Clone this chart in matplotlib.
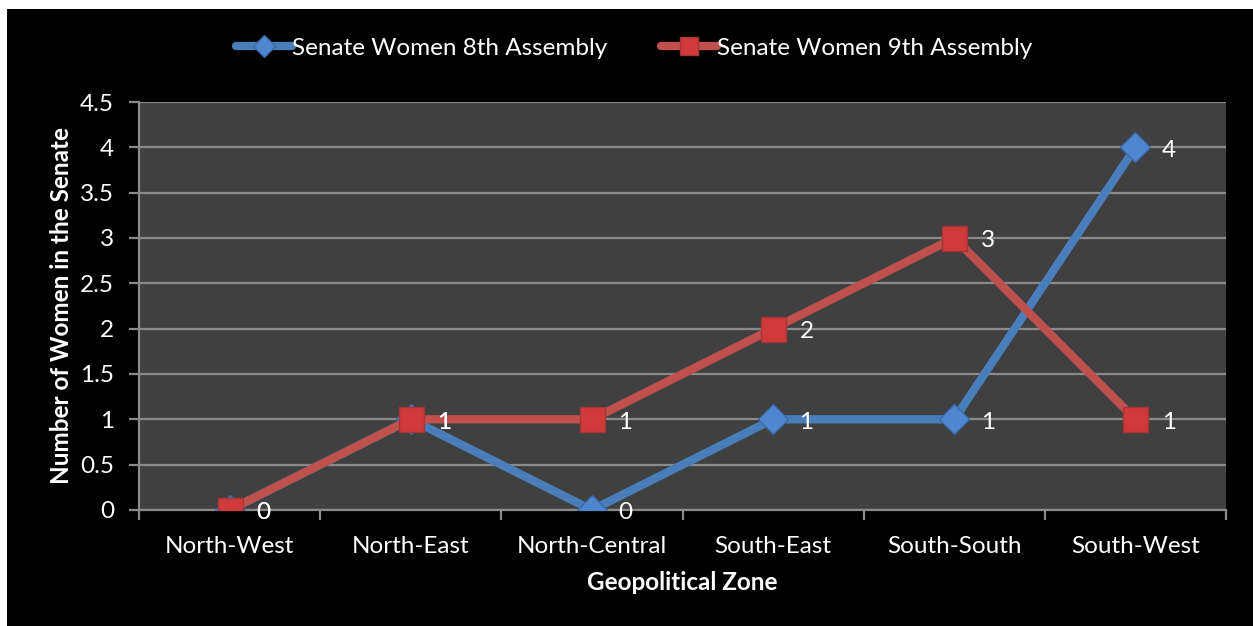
import matplotlib
matplotlib.use("Agg")
import matplotlib.pyplot as plt
from matplotlib.patches import Rectangle
import numpy as np

zones = ["North-West", "North-East", "North-Central", "South-East", "South-South", "South-West"]
women_8th = [0, 1, 0, 1, 1, 4]
women_9th = [0, 1, 1, 2, 3, 1]
series_names = ["Senate Women 8th Assembly", "Senate Women 9th Assembly"]
yticks = [0, 0.5, 1, 1.5, 2, 2.5, 3, 3.5, 4, 4.5]
ytick_labels = ["0", "0.5", "1", "1.5", "2", "2.5", "3", "3.5", "4", "4.5"]

FONT = ["Lato", "DejaVu Sans"]
plt.rcParams['font.family'] = FONT

W, H = 1253, 626
fig = plt.figure(figsize=(W / 100, H / 100), dpi=100, facecolor="white")
fig.patches.append(Rectangle((7 / W, 0), 1 - 7 / W, 1 - 9 / H, transform=fig.transFigure,
                             facecolor="black", edgecolor="none", zorder=-10))

ax = fig.add_axes([139 / W, 1 - 510 / H, (1226 - 139) / W, (510 - 102) / H])
ax.set_zorder(1)
ax.set_facecolor("#404040")

x = np.arange(len(zones))
blue = "#4A7EBB"
red = "#C0504D"

ax.plot(x, women_8th, color=blue, lw=6, marker="D", markersize=15,
        markerfacecolor="#4F86CF", markeredgecolor="#3A6AA5", markeredgewidth=1,
        label=series_names[0], zorder=3, solid_capstyle="round")
ax.plot(x, women_9th, color=red, lw=6, marker="s", markersize=18,
        markerfacecolor="#D03A3A", markeredgecolor="#A33636", markeredgewidth=1,
        label=series_names[1], zorder=4, solid_capstyle="round")

for xi, v in zip(x, women_8th):
    ax.annotate(str(v), (xi, v), xytext=(19, -2), textcoords="offset points",
                color="white", fontsize=17.5, va="center", ha="left", zorder=5)
for xi, v in zip(x, women_9th):
    ax.annotate(str(v), (xi, v), xytext=(19, -2), textcoords="offset points",
                color="white", fontsize=17.5, va="center", ha="left", zorder=5)

ax.set_xlim(-0.5, len(zones) - 0.5)
ax.set_ylim(0, 4.5)
ax.set_yticks(yticks)
ax.set_yticklabels(ytick_labels)
ax.set_xticks(x)
ax.set_xticklabels(zones)
ax.set_xticks(np.arange(-0.5, len(zones), 1), minor=True)

ax.grid(axis="y", color="#8A8A8A", lw=1.6, zorder=1)
ax.set_axisbelow(True)
for s in ["top", "right"]:
    ax.spines[s].set_visible(False)
for s in ["left", "bottom"]:
    ax.spines[s].set_color("#8A8A8A")
    ax.spines[s].set_linewidth(1.6)

ax.tick_params(axis="y", colors="#8A8A8A", labelcolor="white", labelsize=17.5,
               length=7, width=1.6, direction="out", pad=11)
ax.tick_params(axis="x", which="major", length=0, labelcolor="white", labelsize=17.5, pad=19)
ax.tick_params(axis="x", which="minor", colors="#8A8A8A", length=7, width=1.6, direction="out")

ax.set_ylabel("Number of Women in the Senate", color="white", fontsize=17.5,
              fontweight="bold", labelpad=5)
ax.set_xlabel("Geopolitical Zone", color="white", fontsize=17.5, fontweight="bold", labelpad=10)

leg = fig.legend(loc="center", bbox_to_anchor=(634 / W, 1 - 48 / H), ncol=2, frameon=False,
                 fontsize=17.5, labelcolor="white", handlelength=2.3, handletextpad=0.0,
                 columnspacing=2.2, markerscale=0.75)

fig.savefig("out.png", dpi=100, facecolor="white")
